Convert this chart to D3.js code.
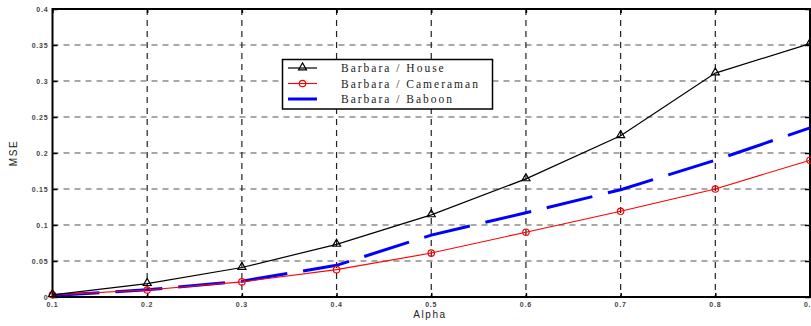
<!DOCTYPE html>
<html>
<head>
<meta charset="utf-8">
<script src="https://cdn.jsdelivr.net/npm/d3@7"></script>
<style>
  html, body { margin: 0; padding: 0; background: #fff; overflow: hidden; }
  svg { display: block; }
  .tick-label { font-family: "Liberation Sans", Arial, sans-serif; font-size: 7px; font-weight: bold; fill: #444; letter-spacing: 0.8px; }
  .axis-title { font-family: "Liberation Sans", Arial, sans-serif; font-size: 10px; fill: #222; letter-spacing: 1.6px; }
  .legend-text { font-family: "Liberation Serif", "Times New Roman", serif; font-size: 11.5px; fill: #1a1a1a; letter-spacing: 2px; }
</style>
</head>
<body>
<svg id="chart" width="811" height="326"></svg>
<script>
// Alpha values on the x axis
const alphas = [0.1, 0.2, 0.3, 0.4, 0.5, 0.6, 0.7, 0.8, 0.9];
// MSE per image pair
const houseMSE     = [0.003, 0.0185, 0.041, 0.073, 0.114, 0.164, 0.224, 0.311, 0.352];
const cameramanMSE = [0.003, 0.0097, 0.021, 0.038, 0.061, 0.090, 0.119, 0.150, 0.190];
const baboonMSE    = [0.002, 0.010, 0.022, 0.044, 0.086, 0.117, 0.149, 0.190, 0.235];
// Tick labels
const xTicks = [0.1, 0.2, 0.3, 0.4, 0.5, 0.6, 0.7, 0.8, 0.9];
const yTicks = [0, 0.05, 0.1, 0.15, 0.2, 0.25, 0.3, 0.35, 0.4];
const seriesNames = ["Barbara / House", "Barbara / Cameraman", "Barbara / Baboon"];

const svg = d3.select("#chart");
const plotL = 52.5, plotR = 810, plotT = 9, plotB = 297;

const x = d3.scaleLinear().domain([0.1, 0.9]).range([plotL, plotR]);
const y = d3.scaleLinear().domain([0, 0.4]).range([plotB, plotT]);

const fmt = v => v === 0 ? "0" : String(v);

// Grid lines
const grid = svg.append("g");
grid.selectAll("line.hg").data(yTicks.slice(1, -1)).enter().append("line")
  .attr("x1", plotL).attr("x2", plotR)
  .attr("y1", d => y(d)).attr("y2", d => y(d))
  .attr("stroke", "#555").attr("stroke-width", 1.2)
  .attr("stroke-dasharray", "6,5");
grid.selectAll("line.vg").data(xTicks.slice(1, -1)).enter().append("line")
  .attr("x1", d => x(d)).attr("x2", d => x(d))
  .attr("y1", plotT).attr("y2", plotB)
  .attr("stroke", "#222").attr("stroke-width", 1.2)
  .attr("stroke-dasharray", "6,5");

// Axes with inward ticks, labels drawn separately
const axB = svg.append("g").attr("transform", `translate(0,${plotB})`)
  .call(d3.axisBottom(x).tickValues(xTicks).tickSize(-4).tickFormat(""));
const axT = svg.append("g").attr("transform", `translate(0,${plotT})`)
  .call(d3.axisTop(x).tickValues(xTicks).tickSize(-4).tickFormat(""));
const axL = svg.append("g").attr("transform", `translate(${plotL},0)`)
  .call(d3.axisLeft(y).tickValues(yTicks).tickSize(-5).tickFormat(""));
const axR = svg.append("g").attr("transform", `translate(${plotR},0)`)
  .call(d3.axisRight(y).tickValues(yTicks).tickSize(-5).tickFormat(""));
[axB, axT, axL, axR].forEach(g => {
  g.select(".domain").remove();
  g.selectAll(".tick line").attr("stroke", "#000").attr("stroke-width", 1.5);
});

// Plot frame
svg.append("rect").attr("x", plotL).attr("y", plotT)
  .attr("width", plotR - plotL).attr("height", plotB - plotT)
  .attr("fill", "none").attr("stroke", "#000").attr("stroke-width", 2);

// Tick labels
svg.append("g").selectAll("text").data(yTicks).enter().append("text")
  .attr("class", "tick-label")
  .attr("x", plotL - 4).attr("y", d => y(d) + 2.5)
  .attr("text-anchor", "end").text(fmt);
svg.append("g").selectAll("text").data(xTicks).enter().append("text")
  .attr("class", "tick-label")
  .attr("x", d => x(d)).attr("y", plotB + 10)
  .attr("text-anchor", "middle").text(fmt);

// Axis titles
svg.append("text").attr("class", "axis-title")
  .attr("x", 430).attr("y", 318).attr("text-anchor", "middle").text("Alpha");
svg.append("text").attr("class", "axis-title")
  .attr("transform", `translate(17,${(plotT + plotB) / 2}) rotate(-90)`)
  .attr("text-anchor", "middle").text("MSE");

const line = d3.line().x((d, i) => x(alphas[i])).y(d => y(d));

// Barbara / Baboon — thick blue dashed
svg.append("path").datum(baboonMSE).attr("d", line)
  .attr("fill", "none").attr("stroke", "#0000ff").attr("stroke-width", 3)
  .attr("stroke-dasharray", "47,16");

// Barbara / Cameraman — red with circles
svg.append("path").datum(cameramanMSE).attr("d", line)
  .attr("fill", "none").attr("stroke", "#ff0000").attr("stroke-width", 1.1);
svg.append("g").selectAll("circle").data(cameramanMSE).enter().append("circle")
  .attr("cx", (d, i) => x(alphas[i])).attr("cy", d => y(d)).attr("r", 3.2)
  .attr("fill", "none").attr("stroke", "#ff0000").attr("stroke-width", 1.2);

// Barbara / House — black with triangles
svg.append("path").datum(houseMSE).attr("d", line)
  .attr("fill", "none").attr("stroke", "#000").attr("stroke-width", 1.2);
const tri = d3.symbol().type(d3.symbolTriangle).size(28);
svg.append("g").selectAll("path").data(houseMSE).enter().append("path")
  .attr("d", tri)
  .attr("transform", (d, i) => `translate(${x(alphas[i])},${y(d) - 0.5})`)
  .attr("fill", "none").attr("stroke", "#000").attr("stroke-width", 1.2);

// Legend
const lg = svg.append("g");
lg.append("rect").attr("x", 282.5).attr("y", 59.5).attr("width", 210).attr("height", 49.5)
  .attr("fill", "#fff").attr("stroke", "#000").attr("stroke-width", 1.5);
const rows = [68, 83.5, 99];
const lx1 = 288, lx2 = 317, lmid = (lx1 + lx2) / 2;
lg.append("line").attr("x1", lx1).attr("x2", lx2).attr("y1", rows[0]).attr("y2", rows[0])
  .attr("stroke", "#000").attr("stroke-width", 1.2);
lg.append("path").attr("d", tri).attr("transform", `translate(${lmid},${rows[0] - 0.5})`)
  .attr("fill", "none").attr("stroke", "#000").attr("stroke-width", 1.2);
lg.append("line").attr("x1", lx1).attr("x2", lx2).attr("y1", rows[1]).attr("y2", rows[1])
  .attr("stroke", "#ff0000").attr("stroke-width", 1.1);
lg.append("circle").attr("cx", lmid).attr("cy", rows[1]).attr("r", 3.2)
  .attr("fill", "none").attr("stroke", "#ff0000").attr("stroke-width", 1.2);
lg.append("line").attr("x1", lx1).attr("x2", lx2).attr("y1", rows[2]).attr("y2", rows[2])
  .attr("stroke", "#0000ff").attr("stroke-width", 3);
lg.selectAll("text").data(seriesNames).enter().append("text")
  .attr("class", "legend-text")
  .attr("x", 341).attr("y", (d, i) => rows[i] + 4).text(d => d);
</script>
</body>
</html>
